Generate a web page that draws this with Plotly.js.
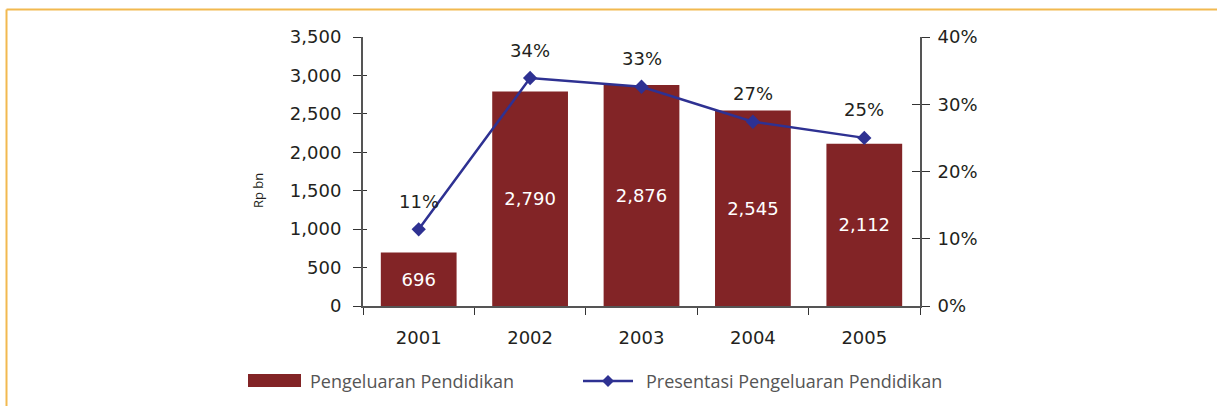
<!DOCTYPE html>
<html>
<head>
<meta charset="utf-8">
<script src="https://cdn.plot.ly/plotly-3.0.1.min.js"></script>
<style>
  html, body { margin: 0; padding: 0; background: #fff; }
  #chart { width: 1217px; height: 406px; }
</style>
</head>
<body>
<div id="chart"></div>
<script>
// ---- data ----
const years = ['2001', '2002', '2003', '2004', '2005'];
const spending = [696, 2790, 2876, 2545, 2112];          // Rp bn
const spendingShare = [11.4, 33.9, 32.6, 27.4, 25.0];     // %
const seriesNames = ['Pengeluaran Pendidikan', 'Presentasi Pengeluaran Pendidikan'];
const yTitle = 'Rp bn';

// ---- styles ----
const BAR = '#822426';
const LINE = '#2E3192';
const NUMFONT = 'DejaVu Sans, sans-serif';
const FONT = 'Open Sans, Noto Sans, sans-serif';
const TXT = '#231f20';

// plot area in pixels (for paper-coordinate conversion of legend items)
const L = 363, R = 920, T = 37, B = 306, W = 1217, H = 406;
const px = x => (x - L) / (R - L);
const py = y => (B - y) / (B - T);

const bars = {
  type: 'bar',
  name: seriesNames[0],
  x: years,
  y: spending,
  width: 0.68,
  marker: { color: BAR, line: { width: 0 } },
  text: spending.map(v => v.toLocaleString('en-US')),
  textposition: 'inside',
  insidetextanchor: 'middle',
  textangle: 0,
  textfont: { family: NUMFONT, size: 18, color: '#ffffff' },
  hoverinfo: 'x+y',
  showlegend: false
};

const line = {
  type: 'scatter',
  mode: 'lines+markers',
  name: seriesNames[1],
  x: years,
  y: spendingShare,
  yaxis: 'y2',
  line: { color: LINE, width: 2.5 },
  marker: { symbol: 'diamond', size: 11, color: LINE },
  showlegend: false
};

// transparent companions so the tick-only overlay axes get drawn
const tickHelperLeft = {
  type: 'scatter', mode: 'markers', x: years, y: spending, yaxis: 'y3',
  marker: { opacity: 0 }, hoverinfo: 'skip', showlegend: false
};
const tickHelperRight = {
  type: 'scatter', mode: 'markers', x: years, y: spendingShare, yaxis: 'y4',
  marker: { opacity: 0 }, hoverinfo: 'skip', showlegend: false
};

const annotations = years.map((yr, i) => ({
  x: i, y: spendingShare[i], xref: 'x', yref: 'y2',
  text: Math.round(spendingShare[i]) + '%',
  showarrow: false, yshift: 28,
  font: { family: NUMFONT, size: 18, color: TXT }
}));

// y title
annotations.push({
  xref: 'paper', yref: 'paper', x: px(247), y: py(191),
  text: yTitle, textangle: -90, showarrow: false,
  font: { family: FONT, size: 13, color: TXT }
});
// legend texts
annotations.push({
  xref: 'paper', yref: 'paper', x: px(308), y: py(381),
  xanchor: 'left', yanchor: 'middle', showarrow: false,
  text: seriesNames[0],
  font: { family: FONT, size: 18, color: '#555555' }
});
annotations.push({
  xref: 'paper', yref: 'paper', x: px(644), y: py(381),
  xanchor: 'left', yanchor: 'middle', showarrow: false,
  text: seriesNames[1],
  font: { family: FONT, size: 18, color: '#555555' }
});

const shapes = [
  // frame (left and top)
  { type: 'line', xref: 'paper', yref: 'paper', x0: px(6.5), x1: px(6.5), y0: py(9.5), y1: py(410), line: { color: '#F2B950', width: 2 } },
  { type: 'line', xref: 'paper', yref: 'paper', x0: px(6.5), x1: px(1220), y0: py(9.5), y1: py(9.5), line: { color: '#F2B950', width: 2 } },
  // legend: bar swatch
  { type: 'rect', xref: 'paper', yref: 'paper', x0: px(248), x1: px(301), y0: py(387), y1: py(374), fillcolor: BAR, line: { width: 0 } },
  // legend: line swatch
  { type: 'line', xref: 'paper', yref: 'paper', x0: px(583), x1: px(633), y0: py(381), y1: py(381), line: { color: LINE, width: 2.5 } },
  { type: 'path', xref: 'paper', yref: 'paper', xsizemode: 'pixel', ysizemode: 'pixel',
    xanchor: px(608), yanchor: py(381), path: 'M0,6L6,0L0,-6L-6,0Z', fillcolor: LINE, line: { width: 0 } }
];

const axisFont = { family: NUMFONT, size: 18, color: TXT };

const layout = {
  width: W, height: H,
  margin: { l: L, r: W - R, t: T, b: H - B, pad: 0 },
  paper_bgcolor: '#ffffff',
  plot_bgcolor: '#ffffff',
  showlegend: false,
  xaxis: {
    type: 'category',
    categoryarray: years, categoryorder: 'array',
    range: [-0.5, years.length - 0.5], autorange: false,
    tickson: 'boundaries',
    ticks: 'outside', ticklen: 7, tickwidth: 1, tickcolor: '#333',
    showline: true, linecolor: '#555', linewidth: 2,
    showgrid: false, zeroline: false,
    tickfont: axisFont,
    tickangle: 0,
    ticklabelstandoff: 14,
    fixedrange: true
  },
  yaxis: {
    range: [0, 3500], autorange: false, dtick: 500, tickformat: ',d',
    ticks: 'outside', ticklen: 8, tickwidth: 1, tickcolor: '#333',
    showline: true, linecolor: '#555', linewidth: 2,
    showgrid: false, zeroline: false,
    tickfont: axisFont,
    ticklabelstandoff: 8,
    fixedrange: true
  },
  yaxis2: {
    overlaying: 'y', side: 'right',
    range: [0, 40], autorange: false, dtick: 10, ticksuffix: '%',
    ticks: 'outside', ticklen: 8, tickwidth: 1, tickcolor: '#333',
    showline: true, linecolor: '#555', linewidth: 2,
    showgrid: false, zeroline: false,
    tickfont: axisFont,
    ticklabelstandoff: 4,
    fixedrange: true
  },
  // inner halves of the crossing ticks
  yaxis3: {
    overlaying: 'y', side: 'left',
    range: [0, 3500], autorange: false, dtick: 500,
    ticks: 'inside', ticklen: 4, tickwidth: 1, tickcolor: '#333',
    showticklabels: false, showline: false, showgrid: false, zeroline: false,
    fixedrange: true
  },
  yaxis4: {
    overlaying: 'y', side: 'right',
    range: [0, 40], autorange: false, dtick: 10,
    ticks: 'inside', ticklen: 8, tickwidth: 1, tickcolor: '#333',
    showticklabels: false, showline: false, showgrid: false, zeroline: false,
    fixedrange: true
  },
  annotations: annotations,
  shapes: shapes,
  font: { family: FONT, color: TXT }
};

Plotly.newPlot('chart', [tickHelperLeft, tickHelperRight, bars, line], layout, { displayModeBar: false, staticPlot: true });
</script>
</body>
</html>
